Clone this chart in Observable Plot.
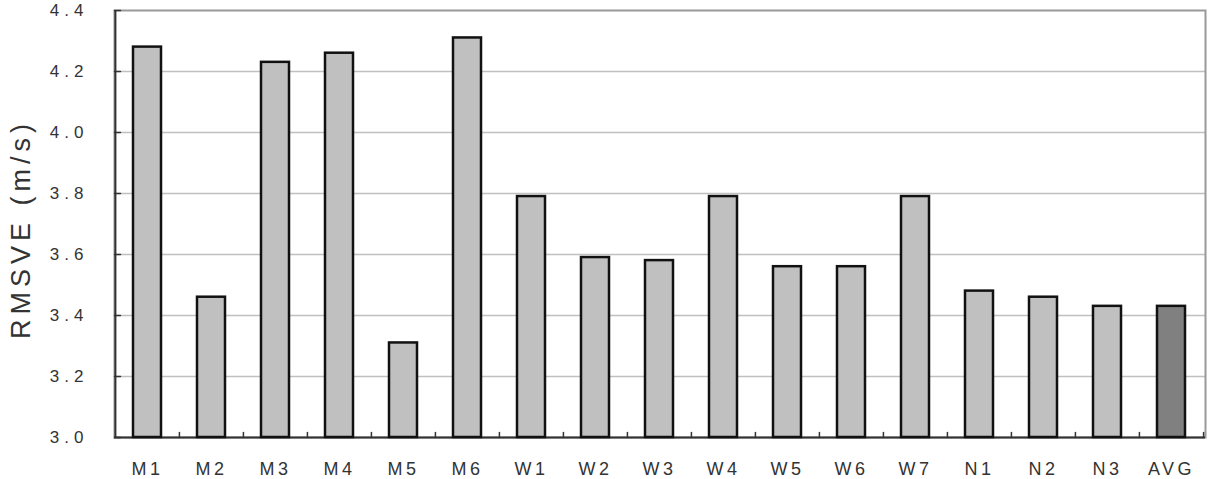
<!DOCTYPE html>
<html><head><meta charset="utf-8">
<script src="https://cdn.jsdelivr.net/npm/d3@7"></script>
<script src="https://cdn.jsdelivr.net/npm/@observablehq/plot@0.6"></script>
<style>
body{margin:0;background:#fff}
svg{display:block}
</style>
</head><body><div id="chart"></div>
<script>
const categories = ["M1","M2","M3","M4","M5","M6","W1","W2","W3","W4","W5","W6","W7","N1","N2","N3","AVG"];
const values = [4.28,3.46,4.23,4.26,3.31,4.31,3.79,3.59,3.58,3.79,3.56,3.56,3.79,3.48,3.46,3.43,3.43];
const groups = ["site","site","site","site","site","site","site","site","site","site","site","site","site","site","site","site","avg"];
const yTicks = [3.0,3.2,3.4,3.6,3.8,4.0,4.2,4.4];
const yDomain = [3.0, 4.4];
const yLabel = "RMSVE (m/s)";

const data = categories.map((c, i) => ({cat: c, value: values[i], group: groups[i]}));

const W = 1223, H = 479, ML = 114, MR = 18, MT = 10, MB = 42;
const step = (W - ML - MR) / categories.length;
const tickLine = {draw(ctx, l) { ctx.moveTo(0, 0); ctx.lineTo(0, -l); }};

const chart = Plot.plot({
  width: W, height: H,
  marginLeft: ML, marginRight: MR, marginTop: MT, marginBottom: MB,
  style: {fontFamily: "'Liberation Sans', Arial, sans-serif", color: "#333", background: "#fff"},
  x: {domain: categories, paddingInner: 0.56, paddingOuter: 0.28, label: null},
  y: {domain: yDomain, label: null},
  color: {domain: ["site", "avg"], range: ["#c0c0c0", "#808080"]},
  marks: [
    Plot.gridY(yTicks.slice(1, -1), {stroke: "#c0c0c0", strokeOpacity: 1, strokeWidth: 1.5}),
    Plot.frame({stroke: "#999", strokeWidth: 2}),
    Plot.ruleY([yDomain[0]], {stroke: "#333", strokeWidth: 2}),
    Plot.ruleX([categories[0]], {dx: -step / 2, stroke: "#333", strokeWidth: 2}),
    Plot.vector(yTicks, {y: d => d, frameAnchor: "left", length: 6, rotate: 90, anchor: "start", shape: tickLine, stroke: "#333", strokeWidth: 1.5}),
    Plot.vector(categories.slice(1), {x: d => d, dx: -step / 2, frameAnchor: "bottom", length: 5, rotate: 0, anchor: "start", shape: tickLine, stroke: "#333", strokeWidth: 1.5}),
    Plot.vector([categories[categories.length - 1]], {x: d => d, dx: step / 2, frameAnchor: "bottom", length: 5, rotate: 0, anchor: "start", shape: tickLine, stroke: "#333", strokeWidth: 1.5}),
    Plot.barY(data, {x: "cat", y1: yDomain[0], y2: "value", fill: "group", stroke: "#111", strokeWidth: 2.5}),
    Plot.axisY(yTicks, {tickSize: 0, tickPadding: 0, dx: -26, tickFormat: d3.format(".1f"), fontSize: 17, fill: "#333", label: null}),
    Plot.axisX({tickSize: 0, tickPadding: 25, fontSize: 18, fill: "#333", label: null}),
    Plot.text([yLabel], {frameAnchor: "left", dx: -93, dy: 5, rotate: -90, textAnchor: "middle", fontSize: 27, fill: "#333"})
  ]
});
document.getElementById("chart").appendChild(chart);
const svg = d3.select(chart);
svg.selectAll('g[aria-label="y-axis tick label"] text').style("letter-spacing", "5px");
svg.selectAll('g[aria-label="x-axis tick label"] text').style("letter-spacing", "3.5px");
svg.selectAll('g[aria-label="text"] text').style("letter-spacing", "5px");
</script>
</body></html>
